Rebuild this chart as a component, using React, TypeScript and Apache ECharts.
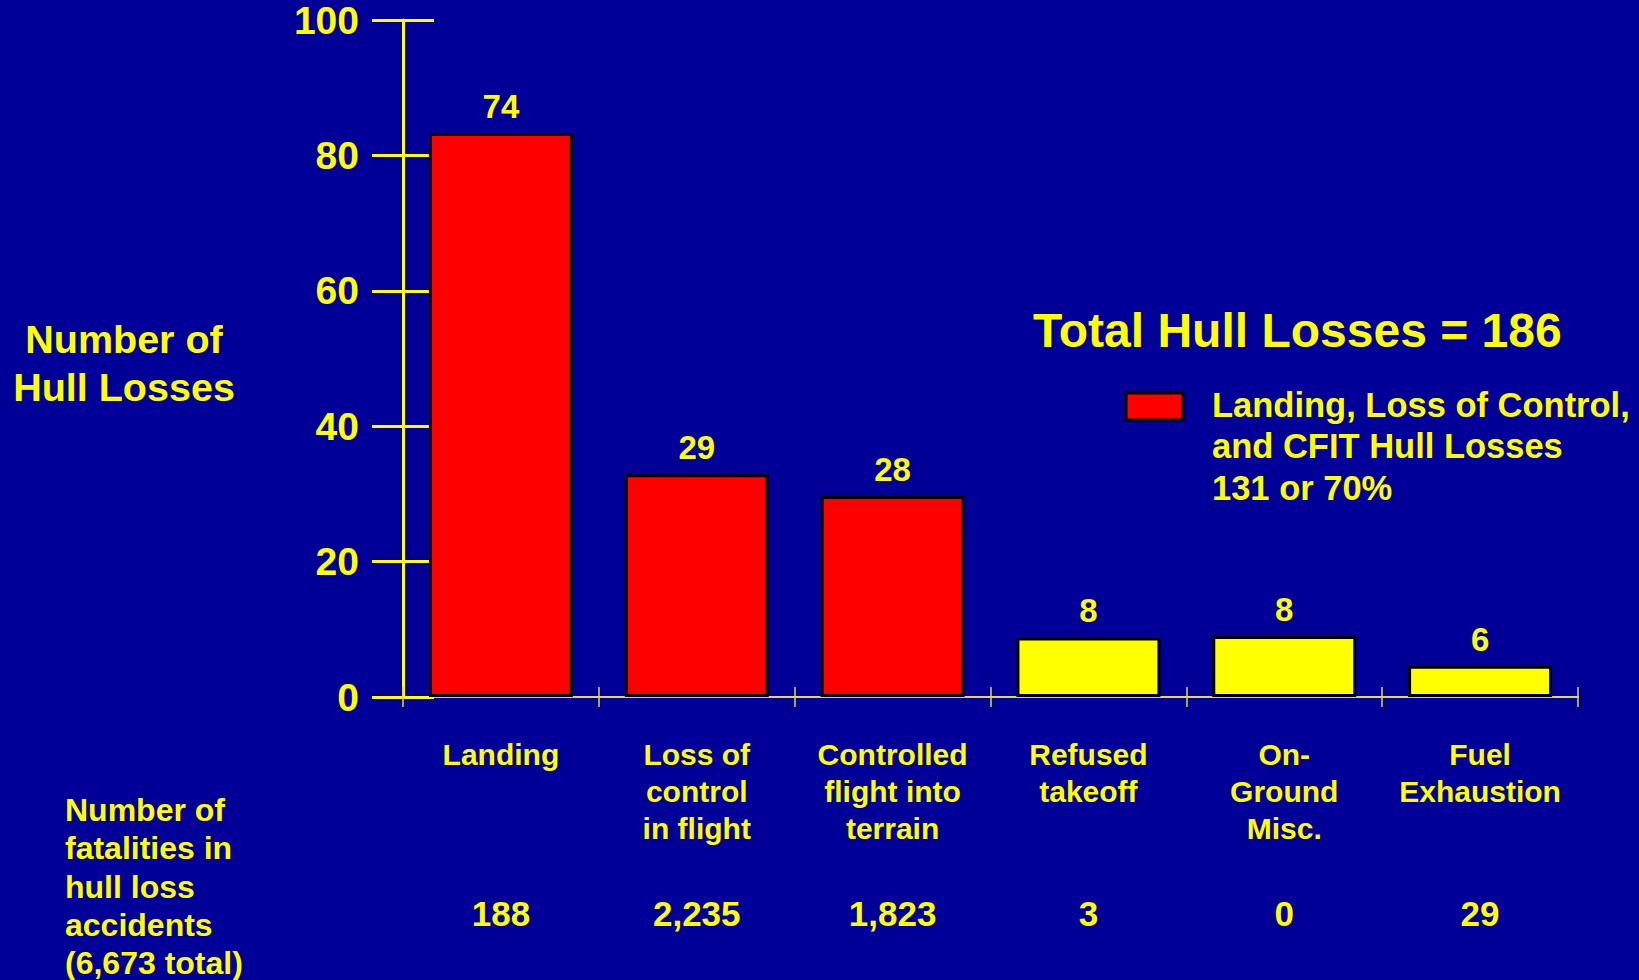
import React, { useEffect, useRef } from "react";
import * as echarts from "echarts";

const categories = [
  "Landing",
  "Loss of\ncontrol\nin flight",
  "Controlled\nflight into\nterrain",
  "Refused\ntakeoff",
  "On-\nGround\nMisc.",
  "Fuel\nExhaustion",
];
// bar heights as drawn in the picture
const barHeights = [83.3, 32.9, 29.7, 8.8, 9.0, 4.6];
// values printed above bars
const barLabels = ["74", "29", "28", "8", "8", "6"];
// whether the category belongs to the Landing / LOC / CFIT group
const inGroup = [true, true, true, false, false, false];
const fatalities = ["188", "2,235", "1,823", "3", "0", "29"];
const yTicks = { min: 0, max: 100, interval: 20 };

const titleText = "Total Hull Losses = 186";
const legendLines = ["Landing, Loss of Control,", "and CFIT Hull Losses", "131 or 70%"];
const yTitle = "Number of\nHull Losses";
const fatalTitle = "Number of\nfatalities in\nhull loss\naccidents\n(6,673 total)";

const FONT = '"Liberation Sans", Arial, Helvetica, sans-serif';
const YELLOW = "#FFFF00";
const RED = "#FF0000";
const BG = "#000099";

export default function App() {
  const ref = useRef<HTMLDivElement>(null);
  useEffect(() => {
    document.body.style.margin = "0";
    document.body.style.background = BG;
    if (!ref.current) return;
    const chart = echarts.init(ref.current, undefined, { renderer: "svg" });

    const groupData = barHeights.map((v, i) => (inGroup[i] ? v : "-"));
    const otherData = barHeights.map((v, i) => (!inGroup[i] ? v : "-"));

    const labelCfg = {
      show: true,
      position: "top" as const,
      distance: 10,
      color: YELLOW,
      fontFamily: FONT,
      fontWeight: "bold" as const,
      fontSize: 33,
      formatter: (p: any) => barLabels[p.dataIndex],
    };

    const yBase = {
      type: "value" as const,
      min: yTicks.min,
      max: yTicks.max,
      interval: yTicks.interval,
      splitLine: { show: false },
    };

    const option: any = {
      animation: false,
      backgroundColor: BG,
      grid: { left: 403, right: 61, top: 20, bottom: 283, containLabel: false },
      xAxis: [
        {
          type: "category",
          data: categories,
          position: "bottom",
          axisLine: { show: true, lineStyle: { color: "#e0d84a", width: 2 } },
          axisTick: { show: true, length: 10, lineStyle: { color: "#e0d84a", width: 1.5 } },
          axisLabel: {
            interval: 0,
            margin: 39,
            color: YELLOW,
            fontFamily: FONT,
            fontWeight: "bold",
            fontSize: 30,
            lineHeight: 37,
            verticalAlign: "top",
          },
        },
        {
          type: "category",
          data: fatalities,
          position: "bottom",
          offset: 190,
          axisLine: { show: false },
          axisTick: { show: false },
          axisLabel: {
            interval: 0,
            margin: 6,
            color: YELLOW,
            fontFamily: FONT,
            fontWeight: "bold",
            fontSize: 35,
            lineHeight: 40,
            verticalAlign: "top",
          },
        },
        {
          type: "category",
          data: categories,
          position: "bottom",
          axisLine: { show: false },
          axisTick: { show: true, inside: true, length: 10, lineStyle: { color: "#e0d84a", width: 1.5 } },
          axisLabel: { show: false },
        },
      ],
      yAxis: [
        {
          ...yBase,
          position: "left",
          axisLine: { show: true, lineStyle: { color: YELLOW, width: 3 } },
          axisTick: { show: true, length: 31, lineStyle: { color: YELLOW, width: 3 } },
          axisLabel: {
            margin: 44,
            color: YELLOW,
            fontFamily: FONT,
            fontWeight: "bold",
            fontSize: 39,
          },
        },
        {
          ...yBase,
          position: "left",
          axisLine: { show: false },
          axisTick: { show: true, inside: true, length: 31, lineStyle: { color: YELLOW, width: 3 } },
          axisLabel: { show: false },
        },
      ],
      series: [
        {
          name: "Landing, Loss of Control, and CFIT",
          type: "bar",
          stack: "all",
          xAxisIndex: 0,
          yAxisIndex: 0,
          barWidth: 144,
          data: groupData,
          itemStyle: { color: RED, borderColor: "#000", borderWidth: 3 },
          label: labelCfg,
          z: 1,
        },
        {
          name: "Other",
          type: "bar",
          stack: "all",
          xAxisIndex: 0,
          yAxisIndex: 0,
          barWidth: 144,
          data: otherData,
          itemStyle: { color: YELLOW, borderColor: "#000", borderWidth: 3 },
          label: labelCfg,
          z: 1,
        },
      ],
      graphic: [
        {
          type: "text",
          left: 1033,
          top: 303,
          style: {
            text: titleText,
            fill: YELLOW,
            font: `bold 48px ${FONT}`,
            lineHeight: 54,
          },
        },
        {
          type: "rect",
          shape: { x: 1126, y: 393, width: 57, height: 27 },
          style: { fill: RED, stroke: "#000", lineWidth: 3 },
        },
        {
          type: "text",
          left: 1212,
          top: 384,
          style: {
            text: legendLines.join("\n"),
            fill: YELLOW,
            font: `bold 34.5px ${FONT}`,
            lineHeight: 41.5,
          },
        },
        {
          type: "text",
          x: 124,
          y: 315,
          style: {
            text: yTitle,
            fill: YELLOW,
            font: `bold 39.5px ${FONT}`,
            lineHeight: 48,
            align: "center",
            verticalAlign: "top",
          },
        },
        {
          type: "text",
          left: 65,
          top: 791,
          style: {
            text: fatalTitle,
            fill: YELLOW,
            font: `bold 32px ${FONT}`,
            lineHeight: 38.3,
          },
        },
      ],
    };
    chart.setOption(option);
    return () => chart.dispose();
  }, []);
  return <div ref={ref} style={{ width: 1639, height: 980, background: BG }} />;
}
